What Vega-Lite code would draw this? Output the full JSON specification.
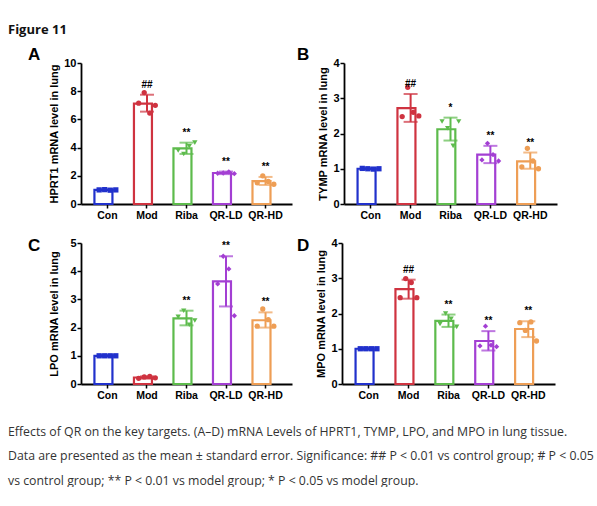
{
  "$schema": "https://vega.github.io/schema/vega-lite/v6.json",
  "padding": {"left": 8, "top": 24, "right": 0, "bottom": 0},
  "background": "white",
  "title": {
    "text": [
      "Effects of QR on the key targets. (A–D) mRNA Levels of HPRT1, TYMP, LPO, and MPO in lung tissue.",
      "Data are presented as the mean ± standard error. Significance: ## P < 0.01 vs control group; # P < 0.05",
      "vs control group; ** P < 0.01 vs model group; * P < 0.05 vs model group."
    ],
    "orient": "bottom",
    "anchor": "start",
    "frame": "bounds",
    "dx": 0,
    "offset": 25,
    "font": "Open Sans",
    "fontWeight": "normal",
    "fontSize": 12.3,
    "lineHeight": 24.5,
    "color": "#333333"
  },
  "datasets": {
    "summary": [
      {"panel": "A", "group": "Con", "mean": 1.0, "lo": 0.97, "hi": 1.03, "sig": ""},
      {"panel": "A", "group": "Mod", "mean": 7.12, "lo": 6.55, "hi": 7.75, "sig": "##"},
      {"panel": "A", "group": "Riba", "mean": 3.95, "lo": 3.55, "hi": 4.35, "sig": "**"},
      {"panel": "A", "group": "QR-LD", "mean": 2.2, "lo": 2.12, "hi": 2.3, "sig": "**"},
      {"panel": "A", "group": "QR-HD", "mean": 1.62, "lo": 1.35, "hi": 1.92, "sig": "**"},
      {"panel": "B", "group": "Con", "mean": 1.0, "lo": 0.98, "hi": 1.02, "sig": ""},
      {"panel": "B", "group": "Mod", "mean": 2.72, "lo": 2.33, "hi": 3.12, "sig": "##"},
      {"panel": "B", "group": "Riba", "mean": 2.12, "lo": 1.8, "hi": 2.45, "sig": "*"},
      {"panel": "B", "group": "QR-LD", "mean": 1.4, "lo": 1.16, "hi": 1.65, "sig": "**"},
      {"panel": "B", "group": "QR-HD", "mean": 1.21, "lo": 1.0, "hi": 1.46, "sig": "**"},
      {"panel": "C", "group": "Con", "mean": 1.0, "lo": 0.97, "hi": 1.03, "sig": ""},
      {"panel": "C", "group": "Mod", "mean": 0.23, "lo": 0.19, "hi": 0.27, "sig": ""},
      {"panel": "C", "group": "Riba", "mean": 2.33, "lo": 2.08, "hi": 2.6, "sig": "**"},
      {"panel": "C", "group": "QR-LD", "mean": 3.64, "lo": 2.75, "hi": 4.53, "sig": "**"},
      {"panel": "C", "group": "QR-HD", "mean": 2.26, "lo": 2.0, "hi": 2.54, "sig": "**"},
      {"panel": "D", "group": "Con", "mean": 1.0, "lo": 0.97, "hi": 1.03, "sig": ""},
      {"panel": "D", "group": "Mod", "mean": 2.69, "lo": 2.42, "hi": 2.96, "sig": "##"},
      {"panel": "D", "group": "Riba", "mean": 1.79, "lo": 1.62, "hi": 1.97, "sig": "**"},
      {"panel": "D", "group": "QR-LD", "mean": 1.22, "lo": 0.95, "hi": 1.5, "sig": "**"},
      {"panel": "D", "group": "QR-HD", "mean": 1.56, "lo": 1.33, "hi": 1.78, "sig": "**"}
    ],
    "points": [
      {"panel": "A", "group": "Con", "rep": 1, "value": 1.0},
      {"panel": "A", "group": "Con", "rep": 2, "value": 1.02},
      {"panel": "A", "group": "Con", "rep": 3, "value": 0.98},
      {"panel": "A", "group": "Con", "rep": 4, "value": 1.0},
      {"panel": "A", "group": "Mod", "rep": 1, "value": 7.15},
      {"panel": "A", "group": "Mod", "rep": 2, "value": 7.9},
      {"panel": "A", "group": "Mod", "rep": 3, "value": 6.45},
      {"panel": "A", "group": "Mod", "rep": 4, "value": 7.0},
      {"panel": "A", "group": "Riba", "rep": 1, "value": 3.8},
      {"panel": "A", "group": "Riba", "rep": 2, "value": 3.55},
      {"panel": "A", "group": "Riba", "rep": 3, "value": 4.1},
      {"panel": "A", "group": "Riba", "rep": 4, "value": 4.35},
      {"panel": "A", "group": "QR-LD", "rep": 1, "value": 2.18},
      {"panel": "A", "group": "QR-LD", "rep": 2, "value": 2.2},
      {"panel": "A", "group": "QR-LD", "rep": 3, "value": 2.28},
      {"panel": "A", "group": "QR-LD", "rep": 4, "value": 2.15},
      {"panel": "A", "group": "QR-HD", "rep": 1, "value": 1.5},
      {"panel": "A", "group": "QR-HD", "rep": 2, "value": 2.0},
      {"panel": "A", "group": "QR-HD", "rep": 3, "value": 1.6},
      {"panel": "A", "group": "QR-HD", "rep": 4, "value": 1.4},
      {"panel": "B", "group": "Con", "rep": 1, "value": 1.01},
      {"panel": "B", "group": "Con", "rep": 2, "value": 1.0},
      {"panel": "B", "group": "Con", "rep": 3, "value": 0.99},
      {"panel": "B", "group": "Con", "rep": 4, "value": 1.0},
      {"panel": "B", "group": "Mod", "rep": 1, "value": 2.48},
      {"panel": "B", "group": "Mod", "rep": 2, "value": 3.31},
      {"panel": "B", "group": "Mod", "rep": 3, "value": 2.6},
      {"panel": "B", "group": "Mod", "rep": 4, "value": 2.5},
      {"panel": "B", "group": "Riba", "rep": 1, "value": 2.34},
      {"panel": "B", "group": "Riba", "rep": 2, "value": 2.15},
      {"panel": "B", "group": "Riba", "rep": 3, "value": 1.65},
      {"panel": "B", "group": "Riba", "rep": 4, "value": 2.34},
      {"panel": "B", "group": "QR-LD", "rep": 1, "value": 1.25},
      {"panel": "B", "group": "QR-LD", "rep": 2, "value": 1.72},
      {"panel": "B", "group": "QR-LD", "rep": 3, "value": 1.4},
      {"panel": "B", "group": "QR-LD", "rep": 4, "value": 1.22},
      {"panel": "B", "group": "QR-HD", "rep": 1, "value": 1.05},
      {"panel": "B", "group": "QR-HD", "rep": 2, "value": 1.58},
      {"panel": "B", "group": "QR-HD", "rep": 3, "value": 1.22},
      {"panel": "B", "group": "QR-HD", "rep": 4, "value": 1.0},
      {"panel": "C", "group": "Con", "rep": 1, "value": 1.0},
      {"panel": "C", "group": "Con", "rep": 2, "value": 1.0},
      {"panel": "C", "group": "Con", "rep": 3, "value": 1.0},
      {"panel": "C", "group": "Con", "rep": 4, "value": 1.0},
      {"panel": "C", "group": "Mod", "rep": 1, "value": 0.2},
      {"panel": "C", "group": "Mod", "rep": 2, "value": 0.25},
      {"panel": "C", "group": "Mod", "rep": 3, "value": 0.27},
      {"panel": "C", "group": "Mod", "rep": 4, "value": 0.22},
      {"panel": "C", "group": "Riba", "rep": 1, "value": 2.38},
      {"panel": "C", "group": "Riba", "rep": 2, "value": 2.6},
      {"panel": "C", "group": "Riba", "rep": 3, "value": 2.1},
      {"panel": "C", "group": "Riba", "rep": 4, "value": 2.25},
      {"panel": "C", "group": "QR-LD", "rep": 1, "value": 3.55},
      {"panel": "C", "group": "QR-LD", "rep": 2, "value": 4.53},
      {"panel": "C", "group": "QR-LD", "rep": 3, "value": 4.08},
      {"panel": "C", "group": "QR-LD", "rep": 4, "value": 2.42},
      {"panel": "C", "group": "QR-HD", "rep": 1, "value": 2.05},
      {"panel": "C", "group": "QR-HD", "rep": 2, "value": 2.66},
      {"panel": "C", "group": "QR-HD", "rep": 3, "value": 2.28},
      {"panel": "C", "group": "QR-HD", "rep": 4, "value": 2.05},
      {"panel": "D", "group": "Con", "rep": 1, "value": 1.0},
      {"panel": "D", "group": "Con", "rep": 2, "value": 1.0},
      {"panel": "D", "group": "Con", "rep": 3, "value": 1.0},
      {"panel": "D", "group": "Con", "rep": 4, "value": 1.0},
      {"panel": "D", "group": "Mod", "rep": 1, "value": 2.45},
      {"panel": "D", "group": "Mod", "rep": 2, "value": 2.99},
      {"panel": "D", "group": "Mod", "rep": 3, "value": 2.88},
      {"panel": "D", "group": "Mod", "rep": 4, "value": 2.45},
      {"panel": "D", "group": "Riba", "rep": 1, "value": 1.7},
      {"panel": "D", "group": "Riba", "rep": 2, "value": 2.0},
      {"panel": "D", "group": "Riba", "rep": 3, "value": 1.85},
      {"panel": "D", "group": "Riba", "rep": 4, "value": 1.62},
      {"panel": "D", "group": "QR-LD", "rep": 1, "value": 1.08},
      {"panel": "D", "group": "QR-LD", "rep": 2, "value": 1.64},
      {"panel": "D", "group": "QR-LD", "rep": 3, "value": 1.1},
      {"panel": "D", "group": "QR-LD", "rep": 4, "value": 1.06},
      {"panel": "D", "group": "QR-HD", "rep": 1, "value": 1.74},
      {"panel": "D", "group": "QR-HD", "rep": 2, "value": 1.52},
      {"panel": "D", "group": "QR-HD", "rep": 3, "value": 1.76},
      {"panel": "D", "group": "QR-HD", "rep": 4, "value": 1.22}
    ]
  },
  "vconcat": [
    {
      "title": {"text": "Figure 11", "anchor": "start", "frame": "bounds", "dx": -20, "font": "Open Sans", "fontSize": 13, "fontWeight": "bold", "color": "#111111", "offset": 9},
      "spacing": 5,
      "hconcat": [
        {
          "title": {"text": "A", "anchor": "start", "frame": "group", "dx": -53, "fontSize": 17, "offset": -7},
          "width": 211, "height": 141,
          "layer": [
            {"data": {"name": "summary"}, "transform": [{"filter": "datum.panel === 'A'"}], "mark": {"type": "bar", "fill": "white", "strokeWidth": 2.2},
             "encoding": {
               "x": {"field": "group", "type": "nominal", "sort": ["Con", "Mod", "Riba", "QR-LD", "QR-HD"], "scale": {"paddingInner": 0.34, "paddingOuter": 0.34}, "axis": {"title": null, "labelAngle": 0, "labelFontSize": 10.5, "labelPadding": 2}},
               "y": {"field": "mean", "type": "quantitative", "scale": {"domain": [0, 10], "nice": false}, "axis": {"title": "HPRT1 mRNA level in lung", "values": [0, 2, 4, 6, 8, 10], "titlePadding": 4, "labelPadding": 1, "labelOverlap": false}},
               "stroke": {"field": "group", "type": "nominal", "scale": {"domain": ["Con", "Mod", "Riba", "QR-LD", "QR-HD"], "range": ["#2131cc", "#cf3340", "#5dbb4c", "#a33fd3", "#ee9e55"]}, "legend": null}
             }},
            {"data": {"name": "summary"}, "transform": [{"filter": "datum.panel === 'A'"}], "mark": {"type": "errorbar", "ticks": {"size": 14, "thickness": 2}, "thickness": 2},
             "encoding": {
               "x": {"field": "group", "type": "nominal", "sort": ["Con", "Mod", "Riba", "QR-LD", "QR-HD"]},
               "y": {"field": "lo", "type": "quantitative", "axis": {"title": "HPRT1 mRNA level in lung", "values": [0, 2, 4, 6, 8, 10], "titlePadding": 4, "labelPadding": 1, "labelOverlap": false}},
               "y2": {"field": "hi"},
               "color": {"field": "group", "type": "nominal", "scale": {"domain": ["Con", "Mod", "Riba", "QR-LD", "QR-HD"], "range": ["#2131cc", "#cf3340", "#5dbb4c", "#a33fd3", "#ee9e55"]}, "legend": null}
             }},
            {"data": {"name": "points"}, "transform": [{"filter": "datum.panel === 'A'"}], "mark": {"type": "point", "filled": true, "opacity": 1, "size": 28},
             "encoding": {
               "x": {"field": "group", "type": "nominal", "sort": ["Con", "Mod", "Riba", "QR-LD", "QR-HD"]},
               "xOffset": {"field": "rep", "type": "ordinal", "scale": {"type": "point", "padding": 0.85}},
               "y": {"field": "value", "type": "quantitative", "axis": {"title": "HPRT1 mRNA level in lung", "values": [0, 2, 4, 6, 8, 10], "titlePadding": 4, "labelPadding": 1, "labelOverlap": false}},
               "color": {"field": "group", "type": "nominal", "legend": null},
               "shape": {"field": "group", "type": "nominal", "scale": {"domain": ["Con", "Mod", "Riba", "QR-LD", "QR-HD"], "range": ["square", "circle", "triangle-down", "diamond", "circle"]}, "legend": null}
             }},
            {"data": {"name": "summary"}, "transform": [{"filter": "datum.panel === 'A'"}], "mark": {"type": "text", "dy": -10, "fontWeight": "bold", "fontSize": 10, "font": "Liberation Sans", "color": "black"},
             "encoding": {
               "x": {"field": "group", "type": "nominal", "sort": ["Con", "Mod", "Riba", "QR-LD", "QR-HD"]},
               "y": {"field": "hi", "type": "quantitative", "axis": {"title": "HPRT1 mRNA level in lung", "values": [0, 2, 4, 6, 8, 10], "titlePadding": 4, "labelPadding": 1, "labelOverlap": false}},
               "text": {"field": "sig"}
             }}
          ]
        },
        {
          "title": {"text": "B", "anchor": "start", "frame": "group", "dx": -47, "fontSize": 17, "offset": -7},
          "width": 213, "height": 141,
          "layer": [
            {"data": {"name": "summary"}, "transform": [{"filter": "datum.panel === 'B'"}], "mark": {"type": "bar", "fill": "white", "strokeWidth": 2.2},
             "encoding": {
               "x": {"field": "group", "type": "nominal", "sort": ["Con", "Mod", "Riba", "QR-LD", "QR-HD"], "scale": {"paddingInner": 0.34, "paddingOuter": 0.34}, "axis": {"title": null, "labelAngle": 0, "labelFontSize": 10.5, "labelPadding": 2}},
               "y": {"field": "mean", "type": "quantitative", "scale": {"domain": [0, 4], "nice": false}, "axis": {"title": "TYMP mRNA level in lung", "values": [0, 1, 2, 3, 4], "titlePadding": 4, "labelPadding": 1, "labelOverlap": false}},
               "stroke": {"field": "group", "type": "nominal", "scale": {"domain": ["Con", "Mod", "Riba", "QR-LD", "QR-HD"], "range": ["#2131cc", "#cf3340", "#5dbb4c", "#a33fd3", "#ee9e55"]}, "legend": null}
             }},
            {"data": {"name": "summary"}, "transform": [{"filter": "datum.panel === 'B'"}], "mark": {"type": "errorbar", "ticks": {"size": 14, "thickness": 2}, "thickness": 2},
             "encoding": {
               "x": {"field": "group", "type": "nominal", "sort": ["Con", "Mod", "Riba", "QR-LD", "QR-HD"]},
               "y": {"field": "lo", "type": "quantitative", "axis": {"title": "TYMP mRNA level in lung", "values": [0, 1, 2, 3, 4], "titlePadding": 4, "labelPadding": 1, "labelOverlap": false}},
               "y2": {"field": "hi"},
               "color": {"field": "group", "type": "nominal", "scale": {"domain": ["Con", "Mod", "Riba", "QR-LD", "QR-HD"], "range": ["#2131cc", "#cf3340", "#5dbb4c", "#a33fd3", "#ee9e55"]}, "legend": null}
             }},
            {"data": {"name": "points"}, "transform": [{"filter": "datum.panel === 'B'"}], "mark": {"type": "point", "filled": true, "opacity": 1, "size": 28},
             "encoding": {
               "x": {"field": "group", "type": "nominal", "sort": ["Con", "Mod", "Riba", "QR-LD", "QR-HD"]},
               "xOffset": {"field": "rep", "type": "ordinal", "scale": {"type": "point", "padding": 0.85}},
               "y": {"field": "value", "type": "quantitative", "axis": {"title": "TYMP mRNA level in lung", "values": [0, 1, 2, 3, 4], "titlePadding": 4, "labelPadding": 1, "labelOverlap": false}},
               "color": {"field": "group", "type": "nominal", "legend": null},
               "shape": {"field": "group", "type": "nominal", "scale": {"domain": ["Con", "Mod", "Riba", "QR-LD", "QR-HD"], "range": ["square", "circle", "triangle-down", "diamond", "circle"]}, "legend": null}
             }},
            {"data": {"name": "summary"}, "transform": [{"filter": "datum.panel === 'B'"}], "mark": {"type": "text", "dy": -10, "fontWeight": "bold", "fontSize": 10, "font": "Liberation Sans", "color": "black"},
             "encoding": {
               "x": {"field": "group", "type": "nominal", "sort": ["Con", "Mod", "Riba", "QR-LD", "QR-HD"]},
               "y": {"field": "hi", "type": "quantitative", "axis": {"title": "TYMP mRNA level in lung", "values": [0, 1, 2, 3, 4], "titlePadding": 4, "labelPadding": 1, "labelOverlap": false}},
               "text": {"field": "sig"}
             }}
          ]
        }
      ]
    },
    {
      "spacing": 5,
      "hconcat": [
        {
          "title": {"text": "C", "anchor": "start", "frame": "group", "dx": -53, "fontSize": 17, "offset": -18},
          "width": 211, "height": 141,
          "layer": [
            {"data": {"name": "summary"}, "transform": [{"filter": "datum.panel === 'C'"}], "mark": {"type": "bar", "fill": "white", "strokeWidth": 2.2},
             "encoding": {
               "x": {"field": "group", "type": "nominal", "sort": ["Con", "Mod", "Riba", "QR-LD", "QR-HD"], "scale": {"paddingInner": 0.34, "paddingOuter": 0.34}, "axis": {"title": null, "labelAngle": 0, "labelFontSize": 10.5, "labelPadding": 2}},
               "y": {"field": "mean", "type": "quantitative", "scale": {"domain": [0, 5], "nice": false}, "axis": {"title": "LPO mRNA level in lung", "values": [0, 1, 2, 3, 4, 5], "titlePadding": 10, "labelPadding": 1, "labelOverlap": false}},
               "stroke": {"field": "group", "type": "nominal", "scale": {"domain": ["Con", "Mod", "Riba", "QR-LD", "QR-HD"], "range": ["#2131cc", "#cf3340", "#5dbb4c", "#a33fd3", "#ee9e55"]}, "legend": null}
             }},
            {"data": {"name": "summary"}, "transform": [{"filter": "datum.panel === 'C'"}], "mark": {"type": "errorbar", "ticks": {"size": 14, "thickness": 2}, "thickness": 2},
             "encoding": {
               "x": {"field": "group", "type": "nominal", "sort": ["Con", "Mod", "Riba", "QR-LD", "QR-HD"]},
               "y": {"field": "lo", "type": "quantitative", "axis": {"title": "LPO mRNA level in lung", "values": [0, 1, 2, 3, 4, 5], "titlePadding": 10, "labelPadding": 1, "labelOverlap": false}},
               "y2": {"field": "hi"},
               "color": {"field": "group", "type": "nominal", "scale": {"domain": ["Con", "Mod", "Riba", "QR-LD", "QR-HD"], "range": ["#2131cc", "#cf3340", "#5dbb4c", "#a33fd3", "#ee9e55"]}, "legend": null}
             }},
            {"data": {"name": "points"}, "transform": [{"filter": "datum.panel === 'C'"}], "mark": {"type": "point", "filled": true, "opacity": 1, "size": 28},
             "encoding": {
               "x": {"field": "group", "type": "nominal", "sort": ["Con", "Mod", "Riba", "QR-LD", "QR-HD"]},
               "xOffset": {"field": "rep", "type": "ordinal", "scale": {"type": "point", "padding": 0.85}},
               "y": {"field": "value", "type": "quantitative", "axis": {"title": "LPO mRNA level in lung", "values": [0, 1, 2, 3, 4, 5], "titlePadding": 10, "labelPadding": 1, "labelOverlap": false}},
               "color": {"field": "group", "type": "nominal", "legend": null},
               "shape": {"field": "group", "type": "nominal", "scale": {"domain": ["Con", "Mod", "Riba", "QR-LD", "QR-HD"], "range": ["square", "circle", "triangle-down", "diamond", "circle"]}, "legend": null}
             }},
            {"data": {"name": "summary"}, "transform": [{"filter": "datum.panel === 'C'"}], "mark": {"type": "text", "dy": -10, "fontWeight": "bold", "fontSize": 10, "font": "Liberation Sans", "color": "black"},
             "encoding": {
               "x": {"field": "group", "type": "nominal", "sort": ["Con", "Mod", "Riba", "QR-LD", "QR-HD"]},
               "y": {"field": "hi", "type": "quantitative", "axis": {"title": "LPO mRNA level in lung", "values": [0, 1, 2, 3, 4, 5], "titlePadding": 10, "labelPadding": 1, "labelOverlap": false}},
               "text": {"field": "sig"}
             }}
          ]
        },
        {
          "title": {"text": "D", "anchor": "start", "frame": "group", "dx": -45, "fontSize": 17, "offset": -18},
          "width": 213, "height": 141,
          "layer": [
            {"data": {"name": "summary"}, "transform": [{"filter": "datum.panel === 'D'"}], "mark": {"type": "bar", "fill": "white", "strokeWidth": 2.2},
             "encoding": {
               "x": {"field": "group", "type": "nominal", "sort": ["Con", "Mod", "Riba", "QR-LD", "QR-HD"], "scale": {"paddingInner": 0.34, "paddingOuter": 0.34}, "axis": {"title": null, "labelAngle": 0, "labelFontSize": 10.5, "labelPadding": 2}},
               "y": {"field": "mean", "type": "quantitative", "scale": {"domain": [0, 4], "nice": false}, "axis": {"title": "MPO mRNA level in lung", "values": [0, 1, 2, 3, 4], "titlePadding": 4, "labelPadding": 1, "labelOverlap": false}},
               "stroke": {"field": "group", "type": "nominal", "scale": {"domain": ["Con", "Mod", "Riba", "QR-LD", "QR-HD"], "range": ["#2131cc", "#cf3340", "#5dbb4c", "#a33fd3", "#ee9e55"]}, "legend": null}
             }},
            {"data": {"name": "summary"}, "transform": [{"filter": "datum.panel === 'D'"}], "mark": {"type": "errorbar", "ticks": {"size": 14, "thickness": 2}, "thickness": 2},
             "encoding": {
               "x": {"field": "group", "type": "nominal", "sort": ["Con", "Mod", "Riba", "QR-LD", "QR-HD"]},
               "y": {"field": "lo", "type": "quantitative", "axis": {"title": "MPO mRNA level in lung", "values": [0, 1, 2, 3, 4], "titlePadding": 4, "labelPadding": 1, "labelOverlap": false}},
               "y2": {"field": "hi"},
               "color": {"field": "group", "type": "nominal", "scale": {"domain": ["Con", "Mod", "Riba", "QR-LD", "QR-HD"], "range": ["#2131cc", "#cf3340", "#5dbb4c", "#a33fd3", "#ee9e55"]}, "legend": null}
             }},
            {"data": {"name": "points"}, "transform": [{"filter": "datum.panel === 'D'"}], "mark": {"type": "point", "filled": true, "opacity": 1, "size": 28},
             "encoding": {
               "x": {"field": "group", "type": "nominal", "sort": ["Con", "Mod", "Riba", "QR-LD", "QR-HD"]},
               "xOffset": {"field": "rep", "type": "ordinal", "scale": {"type": "point", "padding": 0.85}},
               "y": {"field": "value", "type": "quantitative", "axis": {"title": "MPO mRNA level in lung", "values": [0, 1, 2, 3, 4], "titlePadding": 4, "labelPadding": 1, "labelOverlap": false}},
               "color": {"field": "group", "type": "nominal", "legend": null},
               "shape": {"field": "group", "type": "nominal", "scale": {"domain": ["Con", "Mod", "Riba", "QR-LD", "QR-HD"], "range": ["square", "circle", "triangle-down", "diamond", "circle"]}, "legend": null}
             }},
            {"data": {"name": "summary"}, "transform": [{"filter": "datum.panel === 'D'"}], "mark": {"type": "text", "dy": -10, "fontWeight": "bold", "fontSize": 10, "font": "Liberation Sans", "color": "black"},
             "encoding": {
               "x": {"field": "group", "type": "nominal", "sort": ["Con", "Mod", "Riba", "QR-LD", "QR-HD"]},
               "y": {"field": "hi", "type": "quantitative", "axis": {"title": "MPO mRNA level in lung", "values": [0, 1, 2, 3, 4], "titlePadding": 4, "labelPadding": 1, "labelOverlap": false}},
               "text": {"field": "sig"}
             }}
          ]
        }
      ]
    }
  ],
  "spacing": 16,
  "config": {
    "view": {"stroke": null},
    "axis": {"domainColor": "black", "domainWidth": 1.8, "tickColor": "black", "tickWidth": 1.5, "tickSize": 4, "labelColor": "black", "labelFont": "Liberation Sans", "labelFontWeight": "bold", "labelFontSize": 11, "labelOverlap": false, "titleFont": "Liberation Sans", "titleFontWeight": "bold", "titleFontSize": 11, "titleColor": "black", "grid": false},
    "title": {"font": "Liberation Sans", "fontWeight": "bold", "color": "black"}
  }
}
